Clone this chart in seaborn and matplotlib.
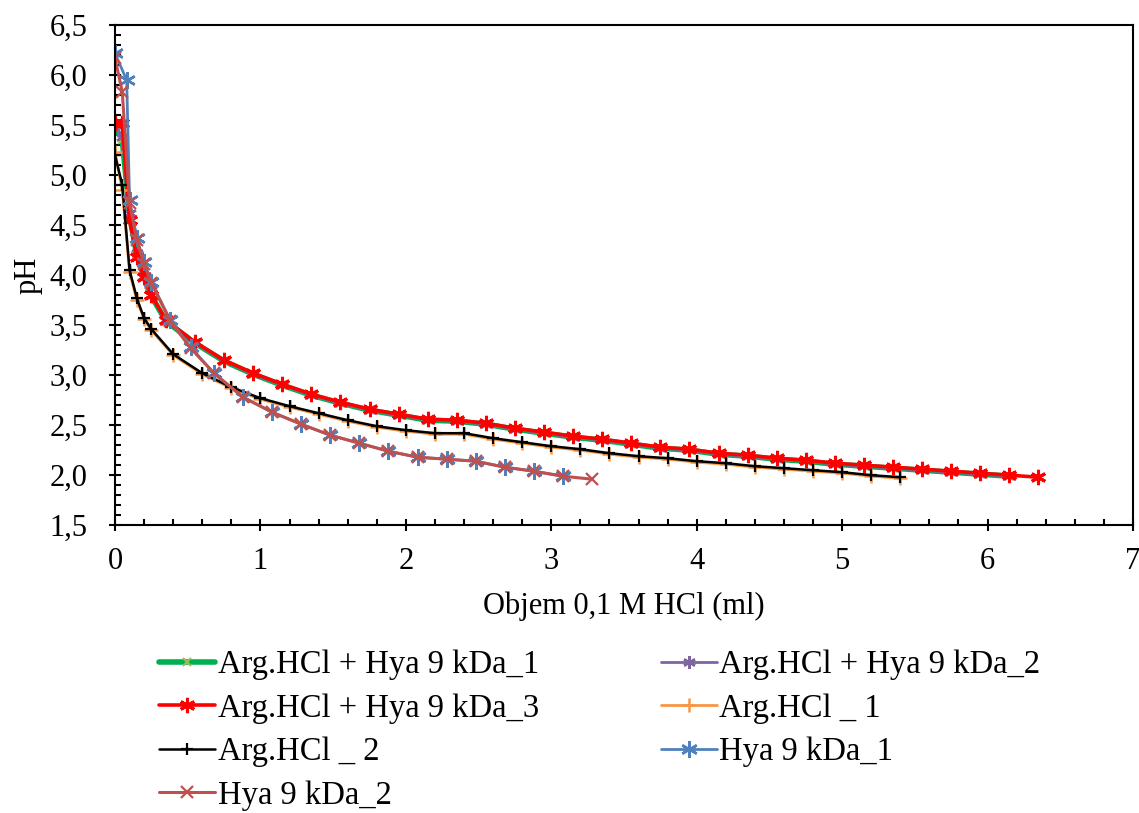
import matplotlib
matplotlib.use("Agg")
import matplotlib.pyplot as plt
import seaborn as sns
from matplotlib.ticker import MultipleLocator, FuncFormatter

# --- data (volume of 0.1 M HCl in ml, pH) ---
mix1_vol = [0, 0.05, 0.1, 0.15, 0.2, 0.25, 0.35, 0.55, 0.75, 0.95, 1.15, 1.35, 1.55, 1.75, 1.95,
            2.15, 2.35, 2.55, 2.75, 2.95, 3.15, 3.35, 3.55, 3.75, 3.95, 4.15, 4.35, 4.55, 4.75,
            4.95, 5.15, 5.35, 5.55, 5.75, 5.95, 6.15]
mix1_ph = [5.48, 5.35, 4.60, 4.20, 3.98, 3.79, 3.54, 3.32, 3.14, 3.01, 2.90, 2.80, 2.72, 2.65, 2.60,
           2.55, 2.54, 2.51, 2.46, 2.42, 2.38, 2.35, 2.31, 2.27, 2.25, 2.21, 2.19, 2.16, 2.14,
           2.11, 2.09, 2.07, 2.05, 2.03, 2.01, 1.99]

mix2_vol = [0, 0.05, 0.1, 0.15, 0.2, 0.25, 0.35, 0.55, 0.75, 0.95, 1.15, 1.35, 1.55, 1.75, 1.95,
            2.15, 2.35, 2.55, 2.75, 2.95, 3.15, 3.35, 3.55, 3.75, 3.95, 4.15, 4.35, 4.55, 4.75,
            4.95, 5.15, 5.35, 5.55, 5.75, 5.95, 6.15]
mix2_ph = [5.50, 5.38, 4.62, 4.22, 3.99, 3.80, 3.54, 3.32, 3.14, 3.01, 2.90, 2.80, 2.72, 2.65, 2.60,
           2.55, 2.54, 2.51, 2.46, 2.42, 2.38, 2.35, 2.31, 2.27, 2.25, 2.21, 2.19, 2.16, 2.14,
           2.11, 2.09, 2.07, 2.05, 2.03, 2.01, 1.99]

mix3_vol = [0, 0.05, 0.1, 0.15, 0.2, 0.25, 0.35, 0.55, 0.75, 0.95, 1.15, 1.35, 1.55, 1.75, 1.95,
            2.15, 2.35, 2.55, 2.75, 2.95, 3.15, 3.35, 3.55, 3.75, 3.95, 4.15, 4.35, 4.55, 4.75,
            4.95, 5.15, 5.35, 5.55, 5.75, 5.95, 6.15, 6.35]
mix3_ph = [5.52, 5.52, 4.55, 4.18, 3.98, 3.80, 3.55, 3.33, 3.15, 3.02, 2.91, 2.81, 2.73, 2.66, 2.61,
           2.56, 2.55, 2.52, 2.47, 2.43, 2.39, 2.36, 2.32, 2.28, 2.26, 2.22, 2.20, 2.17, 2.15,
           2.12, 2.10, 2.08, 2.06, 2.04, 2.02, 2.00, 1.98]

arg1_vol = [0, 0.05, 0.1, 0.15, 0.2, 0.25, 0.4, 0.6, 0.8, 1.0, 1.2, 1.4, 1.6, 1.8, 2.0, 2.2, 2.4,
            2.6, 2.8, 3.0, 3.2, 3.4, 3.6, 3.8, 4.0, 4.2, 4.4, 4.6, 4.8, 5.0, 5.2, 5.4]
arg1_ph = [5.23, 4.85, 4.03, 3.75, 3.56, 3.45, 3.20, 3.01, 2.87, 2.76, 2.68, 2.61, 2.54, 2.48, 2.44,
           2.41, 2.41, 2.36, 2.32, 2.28, 2.25, 2.21, 2.18, 2.16, 2.13, 2.11, 2.08, 2.06, 2.04,
           2.02, 1.99, 1.97]

arg2_vol = [0, 0.05, 0.1, 0.15, 0.2, 0.25, 0.4, 0.6, 0.8, 1.0, 1.2, 1.4, 1.6, 1.8, 2.0, 2.2, 2.4,
            2.6, 2.8, 3.0, 3.2, 3.4, 3.6, 3.8, 4.0, 4.2, 4.4, 4.6, 4.8, 5.0, 5.2, 5.4]
arg2_ph = [5.20, 4.90, 4.05, 3.77, 3.57, 3.46, 3.21, 3.02, 2.88, 2.77, 2.69, 2.62, 2.55, 2.49, 2.45,
           2.42, 2.42, 2.37, 2.33, 2.29, 2.26, 2.22, 2.19, 2.17, 2.14, 2.12, 2.09, 2.07, 2.05,
           2.03, 2.00, 1.98]

hya1_vol = [0, 0.08, 0.1, 0.15, 0.2, 0.25, 0.38, 0.52, 0.68, 0.88, 1.08, 1.28, 1.48, 1.68, 1.88,
            2.08, 2.28, 2.48, 2.68, 2.88, 3.08]
hya1_ph = [6.22, 5.95, 4.75, 4.37, 4.13, 3.93, 3.55, 3.28, 3.02, 2.78, 2.63, 2.51, 2.40, 2.32, 2.24,
           2.18, 2.16, 2.14, 2.08, 2.04, 1.99]

hya2_vol = [0, 0.05, 0.1, 0.15, 0.2, 0.25, 0.38, 0.52, 0.68, 0.88, 1.08, 1.28, 1.48, 1.68, 1.88,
            2.08, 2.28, 2.48, 2.68, 2.88, 3.08, 3.28]
hya2_ph = [6.17, 5.83, 4.72, 4.35, 4.11, 3.92, 3.54, 3.27, 3.02, 2.78, 2.63, 2.51, 2.40, 2.32, 2.24,
           2.18, 2.16, 2.14, 2.08, 2.04, 1.99, 1.96]

labels = ["Arg.HCl + Hya 9 kDa_1", "Arg.HCl + Hya 9 kDa_2", "Arg.HCl + Hya 9 kDa_3",
          "Arg.HCl _ 1", "Arg.HCl _ 2", "Hya 9 kDa_1", "Hya 9 kDa_2"]

star = (6, 2, 0)
series = [
    (mix1_vol, mix1_ph, dict(color="#00B050", lw=4.0, marker="x", ms=6, mec="#9BBB59", mew=1.5)),
    (mix2_vol, mix2_ph, dict(color="#8064A2", lw=2.0, marker=star, ms=9, mec="#8064A2", mew=1.8)),
    (mix3_vol, mix3_ph, dict(color="#FF0000", lw=2.6, marker=star, ms=11, mec="#FF0000", mew=2.2)),
    (arg1_vol, arg1_ph, dict(color="#F79646", lw=2.0, marker="+", ms=10, mec="#F79646", mew=1.8)),
    (arg2_vol, arg2_ph, dict(color="#000000", lw=1.8, marker="+", ms=9, mec="#000000", mew=1.6)),
    (hya1_vol, hya1_ph, dict(color="#4F81BD", lw=2.0, marker=star, ms=12, mec="#4F81BD", mew=1.8)),
    (hya2_vol, hya2_ph, dict(color="#C0504D", lw=2.2, marker="x", ms=9, mec="#C0504D", mew=1.6)),
]

sns.set_style("ticks")
plt.rcParams["font.family"] = ["Liberation Serif", "DejaVu Serif"]
plt.rcParams["font.size"] = 21
plt.rcParams["text.color"] = "black"
plt.rcParams["axes.labelcolor"] = "black"
plt.rcParams["xtick.color"] = "black"
plt.rcParams["ytick.color"] = "black"

fig = plt.figure(figsize=(11.39, 8.13), dpi=100)
ax = fig.add_axes([0.101, 0.354, 0.8937, 0.615])

handles = []
for (vx, vy, st), lab in zip(series, labels):
    sns.lineplot(x=vx, y=vy, ax=ax, sort=False, estimator=None, label=lab, **st)
    handles.append(ax.get_lines()[-1])
ax.get_legend().remove()

ax.set_xlim(0, 7)
ax.set_ylim(1.5, 6.5)
ax.xaxis.set_major_locator(MultipleLocator(1))
ax.xaxis.set_minor_locator(MultipleLocator(0.2))
ax.yaxis.set_major_locator(MultipleLocator(0.5))
ax.yaxis.set_minor_locator(MultipleLocator(0.1))
ax.yaxis.set_major_formatter(FuncFormatter(lambda v, p: f"{v:.1f}".replace(".", ",")))
ax.xaxis.set_major_formatter(FuncFormatter(lambda v, p: f"{v:.0f}"))

ax.tick_params(which="major", direction="inout", length=8, width=1.5, labelsize=22,
               top=False, right=False, colors="black")
ax.tick_params(axis="y", which="major", pad=16)
ax.tick_params(axis="x", which="major", pad=12)
ax.tick_params(which="minor", direction="in", length=4, width=1.5, top=False, right=False,
               colors="black")
for sp in ax.spines.values():
    sp.set_linewidth(1.5)
    sp.set_color("black")

ax.set_xlabel("Objem 0,1 M HCl (ml)", fontsize=22, labelpad=11)
ax.set_ylabel("pH", fontsize=22, labelpad=5)

# legend laid out row by row like the original
order = [0, 2, 4, 6, 1, 3, 5]
fig.legend([handles[i] for i in order], [labels[i] for i in order],
           loc="upper left", bbox_to_anchor=(0.14, 0.201), ncol=2, frameon=False,
           fontsize=23.5, handlelength=1.7, handletextpad=0.08, labelspacing=0.40,
           columnspacing=3.75, borderaxespad=0, borderpad=0)

fig.savefig("out.png", dpi=100)
